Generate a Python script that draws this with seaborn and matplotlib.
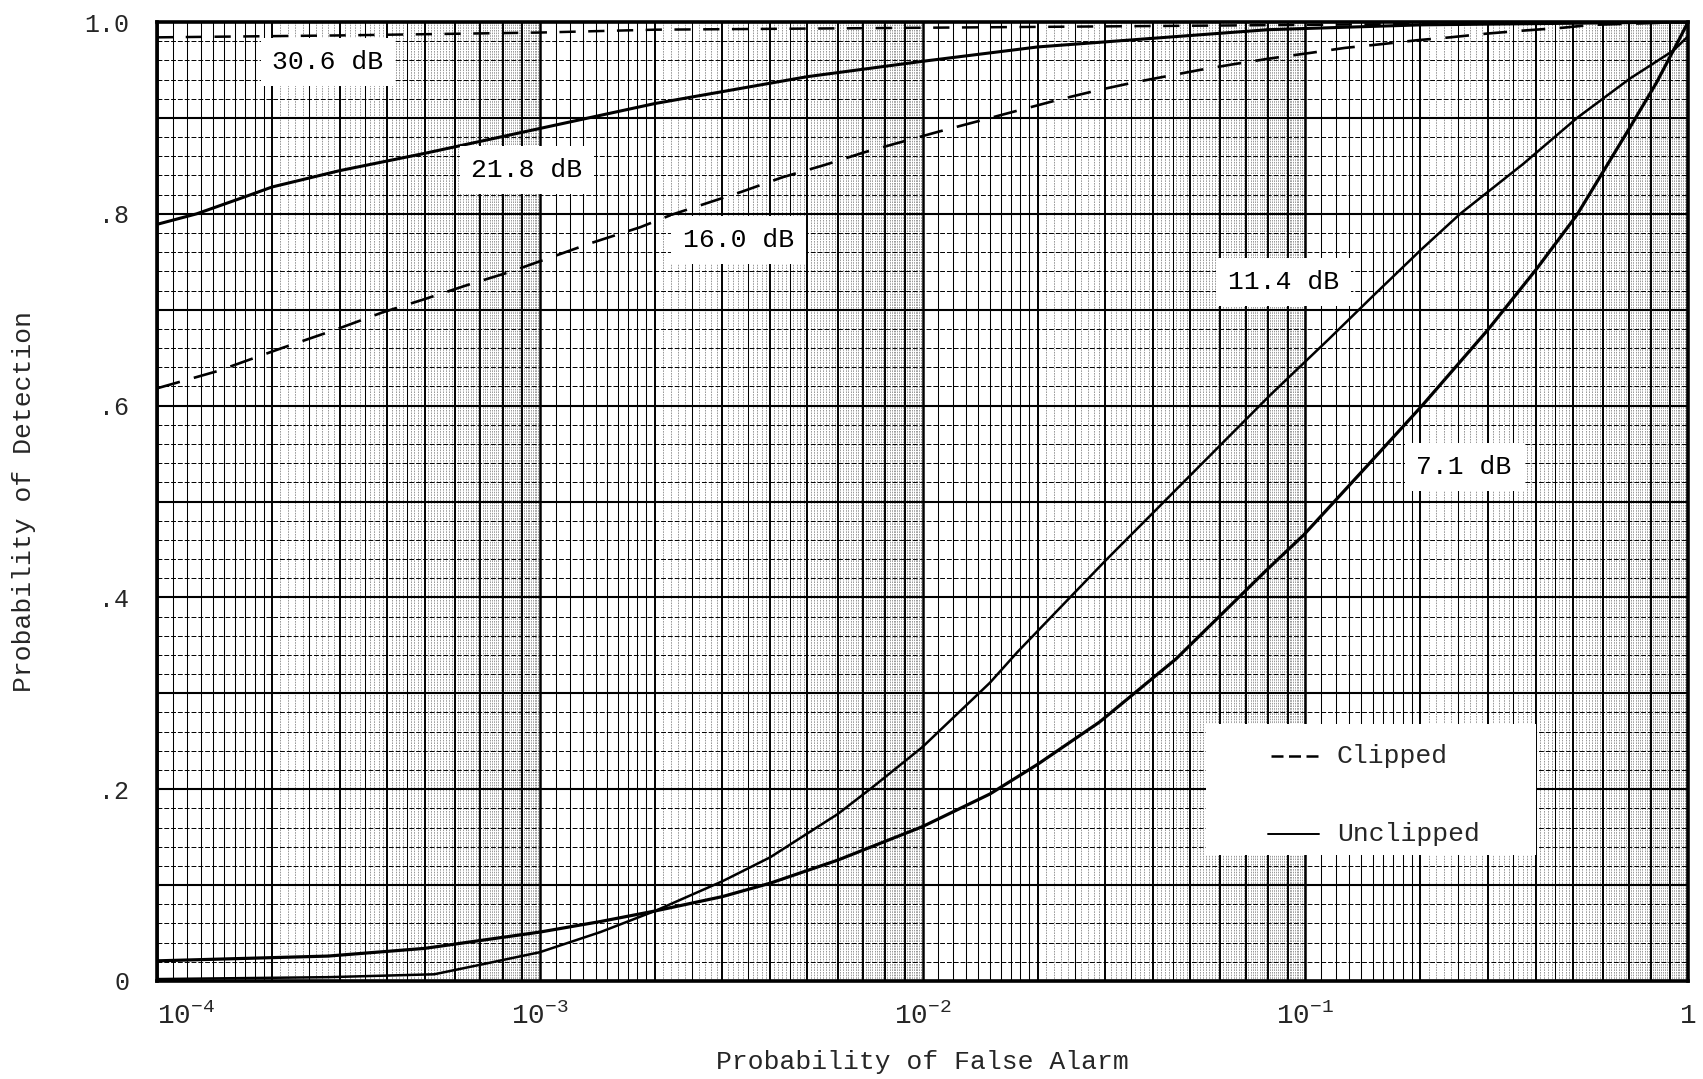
import numpy as np
import pandas as pd
import matplotlib
matplotlib.use("Agg")
import matplotlib.pyplot as plt
import seaborn as sns
from matplotlib.lines import Line2D
from matplotlib.patches import Rectangle

# Receiver operating characteristics: probability of false alarm vs probability of detection
pfa_306 = [1e-4, 3e-4, 1e-3, 2e-3, 1e-2, 1e-1, 1.0]
pd_306 = [0.984, 0.986, 0.989, 0.992, 0.994, 0.997, 1.0]

pfa_218 = [1e-4, 1.27e-4, 1.65e-4, 2.0e-4, 3.0e-4, 5.0e-4, 9.0e-4, 2.0e-3, 5.0e-3,
           1.0e-2, 2.0e-2, 4.0e-2, 8.0e-2, 0.2, 1.0]
pd_218 = [0.789, 0.800, 0.816, 0.828, 0.845, 0.863, 0.885, 0.915, 0.943,
          0.959, 0.974, 0.983, 0.992, 0.997, 1.0]

pfa_160 = [1e-4, 1.44e-4, 2.12e-4, 2.92e-4, 3.87e-4, 5.0e-4, 6.5e-4, 8.3e-4, 1.06e-3,
           1.35e-3, 1.83e-3, 2.21e-3, 3.37e-3, 4.3e-3, 5.56e-3, 7.03e-3, 9.2e-3,
           1.11e-2, 1.41e-2, 1.75e-2, 2.27e-2, 2.88e-2, 3.57e-2, 5.3e-2, 6.5e-2,
           8.1e-2, 0.104, 0.127, 0.159, 0.196, 0.239, 0.30, 0.37, 0.47, 0.56, 1.0]
pd_160 = [0.618, 0.636, 0.660, 0.679, 0.697, 0.711, 0.726, 0.739, 0.754,
          0.769, 0.786, 0.799, 0.823, 0.838, 0.851, 0.864, 0.877,
          0.886, 0.897, 0.907, 0.919, 0.929, 0.937, 0.950, 0.956,
          0.962, 0.968, 0.973, 0.977, 0.981, 0.984, 0.988, 0.991, 0.994, 0.997, 1.0]

pfa_114 = [1e-4, 2.8e-4, 5.3e-4, 7.1e-4, 1e-3, 1.44e-3, 2e-3, 3e-3, 4e-3, 6e-3,
           7.4e-3, 1e-2, 1.5e-2, 1.77e-2, 3e-2, 5e-2, 8.1e-2, 0.115, 0.15, 0.2,
           0.254, 0.371, 0.513, 0.705, 0.914, 1.0]
pd_114 = [0.002, 0.004, 0.007, 0.0175, 0.030, 0.051, 0.073, 0.104, 0.129, 0.174,
          0.202, 0.244, 0.311, 0.343, 0.438, 0.527, 0.611, 0.669, 0.714, 0.762,
          0.800, 0.852, 0.900, 0.941, 0.970, 0.985]

pfa_71 = [1e-4, 2.8e-4, 5e-4, 1e-3, 1.44e-3, 2e-3, 3e-3, 4e-3, 6e-3, 1e-2, 1.5e-2,
          2e-2, 2.9e-2, 4.6e-2, 7.9e-2, 9.9e-2, 0.145, 0.202, 0.30, 0.403, 0.513,
          0.705, 0.828, 0.96, 1.0]
pd_71 = [0.021, 0.026, 0.034, 0.051, 0.062, 0.073, 0.088, 0.102, 0.126, 0.161, 0.195,
         0.226, 0.270, 0.336, 0.428, 0.465, 0.537, 0.600, 0.679, 0.743, 0.799,
         0.890, 0.937, 0.986, 1.0]

curve_names = ["30.6 dB", "21.8 dB", "16.0 dB", "11.4 dB", "7.1 dB"]
y_tick_values = [0, 0.2, 0.4, 0.6, 0.8, 1.0]
y_tick_labels = ["0", ".2", ".4", ".6", ".8", "1.0"]
x_tick_values = [1e-4, 1e-3, 1e-2, 1e-1, 1.0]
x_tick_labels = [r"$\mathregular{10^{-4}}$", r"$\mathregular{10^{-3}}$",
                 r"$\mathregular{10^{-2}}$", r"$\mathregular{10^{-1}}$", "1"]
legend_labels = ["Clipped", "Unclipped"]

sns.set_style("white")
plt.rcParams["font.family"] = ["Liberation Mono", "DejaVu Sans"]
plt.rcParams["mathtext.fontset"] = "custom"
plt.rcParams["mathtext.rm"] = "Liberation Mono"

frames = []
for name, xs, ys in zip(curve_names,
                        [pfa_306, pfa_218, pfa_160, pfa_114, pfa_71],
                        [pd_306, pd_218, pd_160, pd_114, pd_71]):
    frames.append(pd.DataFrame({"pfa": xs, "pd": ys, "curve": name}))
df = pd.concat(frames, ignore_index=True)

fig = plt.figure(figsize=(17.03, 10.79), dpi=100)
ax = fig.add_axes([157 / 1703, 1 - 981 / 1079, (1688 - 157) / 1703, (981 - 22) / 1079])
ax.set_xscale("log")
ax.set_xlim(1e-4, 1.0)
ax.set_ylim(0, 1.0)

# log-linear graph paper ruling
fine_v, mid_v, int_v, dec_v = [], [], [], []
for d in [1e-4, 1e-3, 1e-2, 1e-1]:
    dec_v.append(d)
    int_v += [d * k for k in range(2, 10)]
    mid_v += [d * m for m in np.round(np.arange(1.1, 2.0, 0.1), 2)]
    mid_v += [d * m for m in [2.5, 3.5, 4.5]]
    fine_v += [d * m for m in np.round(np.arange(2.1, 5.0, 0.1), 2) if abs(m * 2 - round(m * 2)) > 1e-6]
    fine_v += [d * m for m in np.round(np.arange(5.1, 10.0, 0.1), 2) if abs(m - round(m)) > 1e-6]
dec_v.append(1.0)

ax.vlines(fine_v, 0, 1, colors="#444444", linewidth=0.38, linestyles=(0, (3, 2)), zorder=1)
ax.vlines(mid_v, 0, 1, colors="black", linewidth=0.75, zorder=1)
ax.vlines(int_v, 0, 1, colors="black", linewidth=1.4, zorder=1)
ax.vlines(dec_v, 0, 1, colors="black", linewidth=1.8, zorder=1)

fine_h = [v for v in np.round(np.arange(0.02, 1.0, 0.02), 2) if abs(v * 10 - round(v * 10)) > 1e-6]
mid_h = list(np.round(np.arange(0.1, 1.0, 0.1), 1))
ax.hlines(fine_h, 1e-4, 1.0, colors="black", linewidth=0.7, linestyles=(0, (5, 2)), zorder=1)
ax.hlines(mid_h, 1e-4, 1.0, colors="black", linewidth=1.5, zorder=1)

# curves
styles = {
    "30.6 dB": dict(lw=1.8, ls=(0, (6.5, 5.0))),
    "21.8 dB": dict(lw=2.2, ls="-"),
    "16.0 dB": dict(lw=1.9, ls=(0, (9.0, 5.5))),
    "11.4 dB": dict(lw=1.8, ls="-"),
    "7.1 dB": dict(lw=2.3, ls="-"),
}
for name in curve_names:
    sub = df[df["curve"] == name]
    sns.lineplot(data=sub, x="pfa", y="pd", ax=ax, color="black",
                 linewidth=styles[name]["lw"], linestyle=styles[name]["ls"],
                 estimator=None, sort=False, legend=False, zorder=4)

# curve labels
label_pos = {
    "30.6 dB": (0.1117, 0.958),
    "21.8 dB": (0.2417, 0.8457),
    "16.0 dB": (0.380, 0.7727),
    "11.4 dB": (0.736, 0.729),
    "7.1 dB": (0.8537, 0.536),
}
for name in curve_names:
    x0, y0 = label_pos[name]
    ax.text(x0, y0, name, transform=ax.transAxes, ha="center", va="center",
            fontsize=19, color="black", zorder=5,
            bbox=dict(boxstyle="square,pad=0.45", facecolor="white", edgecolor="none"))

# key
ax.add_patch(Rectangle((0.6852, 0.131), 0.2155, 0.137, transform=ax.transAxes,
                       facecolor="white", edgecolor="none", zorder=5))
ax.add_line(Line2D([0.7276, 0.7583], [0.2346, 0.2346], transform=ax.transAxes,
                   color="black", lw=1.8, ls=(0, (4.8, 2.2)), zorder=6))
ax.add_line(Line2D([0.7256, 0.7590], [0.1533, 0.1533], transform=ax.transAxes,
                   color="black", lw=1.4, ls="-", zorder=6))
ax.text(0.7707, 0.2346, legend_labels[0], transform=ax.transAxes, ha="left",
        va="center", fontsize=19, zorder=6)
ax.text(0.7707, 0.1533, legend_labels[1], transform=ax.transAxes, ha="left",
        va="center", fontsize=19, zorder=6)

# axes decoration
ax.set_yticks(y_tick_values)
ax.set_yticklabels(y_tick_labels, fontsize=18)
ax.set_xticks(x_tick_values)
ax.set_xticklabels(x_tick_labels, fontsize=20)
ax.xaxis.set_minor_locator(matplotlib.ticker.NullLocator())
ax.tick_params(axis="both", which="both", length=0)
ax.tick_params(axis="y", pad=20)
ax.tick_params(axis="x", pad=16)
ax.get_xticklabels()[0].set_horizontalalignment("left")

for s in ax.spines.values():
    s.set_visible(True)
    s.set_color("black")
    s.set_linewidth(2.6)
    s.set_zorder(7)

ax.set_xlabel("Probability of False Alarm", fontsize=19)
ax.set_ylabel("Probability of Detection", fontsize=19)
ax.xaxis.set_label_coords(0.5, -0.072)
ax.yaxis.set_label_coords(-0.079, 0.5)

fig.savefig("out.png", dpi=100, facecolor="white")
